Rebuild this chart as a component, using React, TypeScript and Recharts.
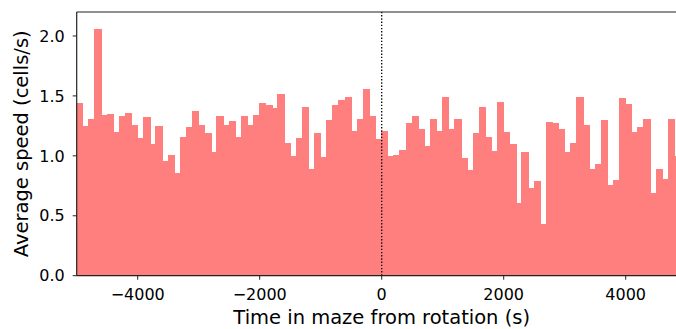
import React from "react";
import { BarChart, Bar, XAxis, YAxis, ReferenceLine } from "recharts";

// 100 s bins, from -5000 s up to 5000 s around the rotation
const BIN_WIDTH = 100;
const FIRST_BIN = -5000;

const SPEED = [
  1.44, 1.25, 1.31, 2.06, 1.34, 1.35, 1.2, 1.33, 1.36, 1.26,
  1.15, 1.32, 1.1, 1.25, 0.96, 1.01, 0.86, 1.16, 1.24, 1.37,
  1.26, 1.19, 1.03, 1.33, 1.26, 1.29, 1.16, 1.33, 1.26, 1.34,
  1.44, 1.42, 1.4, 1.52, 1.11, 1.0, 1.15, 1.41, 0.89, 1.19,
  0.99, 1.3, 1.42, 1.47, 1.49, 1.21, 1.31, 1.56, 1.33, 1.14,
  1.21, 1.0, 1.01, 1.05, 1.27, 1.33, 1.22, 1.08, 1.31, 1.21,
  1.49, 1.22, 1.31, 0.98, 0.88, 1.19, 1.41, 1.16, 1.04, 1.45,
  1.2, 1.1, 0.61, 1.03, 0.73, 0.79, 0.43, 1.28, 1.27, 1.22,
  1.03, 1.11, 1.49, 1.26, 0.89, 0.93, 1.3, 0.76, 0.8, 1.48,
  1.43, 1.2, 1.24, 1.31, 0.69, 0.89, 0.81, 1.31, 1.0, 1.1,
];

const X_TICKS = [-4000, -2000, 0, 2000, 4000];
const Y_TICKS = [0, 0.5, 1, 1.5, 2];

const data = SPEED.map((v, i) => ({
  t: FIRST_BIN + BIN_WIDTH * i + BIN_WIDTH / 2,
  speed: v,
}));

const FONT = "'DejaVu Sans', sans-serif";
const INK = "#222";
const BIN_PX = 6.1; // 610 px plot / 100 bins

const fmtX = (v: number) => (v < 0 ? `\u2212${Math.abs(v)}` : `${v}`);

// each bin is drawn around the centre the scale gives it, a bit wider
// than its spacing so neighbours overlap instead of leaving seams
const BinRect = (props: any) => {
  const { x, y, width, height } = props;
  if (!height || height <= 0) return null;
  const cx = x + width / 2;
  const w = BIN_PX + 1.2;
  return (
    <rect
      x={cx - BIN_PX / 2 - 0.2}
      y={y}
      width={w}
      height={height}
      fill="#ff7f7f"
      shapeRendering="crispEdges"
    />
  );
};

export default function App() {
  return (
    <div
      style={{
        position: "absolute",
        left: 0,
        top: 0,
        width: 676,
        height: 329,
        overflow: "hidden",
        background: "#fff",
      }}
    >
      <BarChart
        width={691.7}
        height={329}
        data={data}
        margin={{ top: 12, right: 5, bottom: 23.3, left: 16.7 }}
        barCategoryGap={0}
        barGap={0}
      >
        <Bar
          dataKey="speed"
          fill="#ff7f7f"
          barSize={BIN_PX}
          shape={BinRect}
          isAnimationActive={false}
        />
        <ReferenceLine x={0} stroke="#000" strokeWidth={1.3} strokeDasharray="1.4 1.8" />
        <ReferenceLine y={2.2} stroke={INK} strokeWidth={1.2} />
        <ReferenceLine x={5000} stroke={INK} strokeWidth={1.2} />
        <XAxis
          dataKey="t"
          type="number"
          domain={[-5000, 5000]}
          ticks={X_TICKS}
          tickFormatter={fmtX}
          height={30}
          tickSize={4}
          tickMargin={9}
          axisLine={{ stroke: INK, strokeWidth: 1.2 }}
          tickLine={{ stroke: INK, strokeWidth: 1 }}
          tick={{ fill: "#000", fontSize: 16, fontFamily: FONT }}
          allowDataOverflow
          label={{
            content: () => (
              <text
                x={381.7}
                y={324}
                textAnchor="middle"
                fill="#000"
                fontSize={19.5}
                fontFamily={FONT}
              >
                Time in maze from rotation (s)
              </text>
            ),
          }}
        />
        <YAxis
          type="number"
          domain={[0, 2.2]}
          ticks={Y_TICKS}
          tickFormatter={(v: number) => v.toFixed(1)}
          width={60}
          tickSize={4}
          tickMargin={8}
          axisLine={{ stroke: INK, strokeWidth: 1.2 }}
          tickLine={{ stroke: INK, strokeWidth: 1 }}
          tick={{ fill: "#000", fontSize: 16, fontFamily: FONT }}
          allowDataOverflow
          label={{
            content: () => (
              <text
                x={28}
                y={143.8}
                transform="rotate(-90, 28, 143.8)"
                textAnchor="middle"
                fill="#000"
                fontSize={19.5}
                fontFamily={FONT}
              >
                Average speed (cells/s)
              </text>
            ),
          }}
        />
      </BarChart>
    </div>
  );
}
